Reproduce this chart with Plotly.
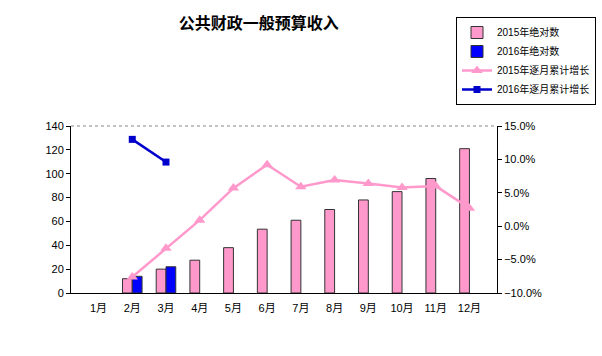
import plotly.graph_objects as go

months = ["1月", "2月", "3月", "4月", "5月", "6月", "7月", "8月", "9月", "10月", "11月", "12月"]
abs_2015 = [None, 12, 20, 27.5, 38, 53.5, 61, 70, 78, 85, 96, 121]
abs_2016 = [None, 14, 22, None, None, None, None, None, None, None, None, None]
growth_2015 = [None, -7.6, -3.3, 0.9, 5.7, 9.2, 5.9, 6.9, 6.4, 5.8, 6.0, 2.7]
growth_2016 = [None, 13.0, 9.6, None, None, None, None, None, None, None, None, None]

font = "Liberation Sans, Arial, Noto Sans CJK SC, sans-serif"

fig = go.Figure()
fig.add_trace(go.Bar(x=months, y=abs_2015, name="2015年绝对数",
                     marker=dict(color="#FF99CC", line=dict(color="#333333", width=1))))
fig.add_trace(go.Bar(x=months, y=abs_2016, name="2016年绝对数",
                     marker=dict(color="#0000FF", line=dict(color="#333333", width=1))))
fig.add_trace(go.Scatter(x=months, y=growth_2015, name="2015年逐月累计增长", yaxis="y2",
                         mode="lines+markers",
                         line=dict(color="#FF99CC", width=2.5),
                         marker=dict(symbol="triangle-up", size=10, color="#FF99CC")))
fig.add_trace(go.Scatter(x=months, y=growth_2016, name="2016年逐月累计增长", yaxis="y2",
                         mode="lines+markers",
                         line=dict(color="#0000CC", width=2.5),
                         marker=dict(symbol="square", size=7, color="#0000CC")))

fig.update_layout(
    width=602, height=356,
    margin=dict(l=71, r=105, t=126, b=63, autoexpand=False),
    paper_bgcolor="white", plot_bgcolor="white",
    barmode="group", bargap=0.42, bargroupgap=0,
    font=dict(family=font, size=11, color="#000000"),
    title=dict(text="<b>公共财政一般预算收入</b>", x=0.43, xanchor="center", y=0.935, yanchor="middle",
               font=dict(family="Noto Sans CJK SC, sans-serif", size=16, color="#000000")),
    xaxis=dict(showline=True, linecolor="#000000", linewidth=1, ticks="",
               tickfont=dict(size=11), showgrid=False, ticklabelstandoff=5),
    yaxis=dict(range=[0, 140], dtick=20, showline=True, linecolor="#000000", linewidth=1,
               ticks="outside", ticklen=4, tickcolor="#000000", showgrid=False, zeroline=False,
               tickfont=dict(size=11)),
    yaxis2=dict(range=[-10, 15], dtick=5, overlaying="y", side="right", showline=True,
                linecolor="#000000", linewidth=1, ticks="outside", ticklen=4, tickcolor="#000000",
                tickformat=".1f", ticksuffix="%", showgrid=False, zeroline=False,
                tickfont=dict(size=11)),
    showlegend=True,
)
fig.update_layout(legend=dict(x=(456 - 71) / 426, y=1 + (126 - 17) / 167, xanchor="left", yanchor="top",
                              bordercolor="#000000", borderwidth=1, bgcolor="white",
                              font=dict(size=10), tracegroupgap=0, itemwidth=30))
fig.add_shape(type="line", xref="paper", yref="paper", x0=0, x1=1, y0=1, y1=1,
              line=dict(color="#888888", width=1, dash="dot"))

fig.write_html("out.html", config={"displayModeBar": False},
               post_script="document.body.style.margin='0';")
